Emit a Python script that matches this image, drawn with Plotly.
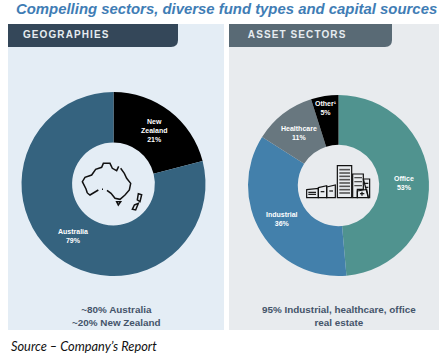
import plotly.graph_objects as go

W, H = 448, 356

geo_labels = ["New Zealand", "Australia"]
geo_values = [21, 79]
geo_colors = ["#000000", "#35637F"]

sector_labels = ["Office", "Industrial", "Healthcare", "Other"]
sector_values = [48.6, 35.4, 11.1, 4.9]
sector_colors = ["#50938F", "#4380AB", "#68777F", "#000000"]


def X(p):
    return p / W


def Y(p):
    return 1 - p / H


def dom(cx, cy, r):
    return dict(x=[X(cx - r), X(cx + r)], y=[Y(cy + r), Y(cy - r)])


def pts(points, ox=0, oy=0, s=1.0, close=False):
    d = "M" + " L".join(f"{X(ox + a * s):.4f},{Y(oy + b * s):.4f}" for a, b in points)
    return d + (" Z" if close else "")


def path(d, line="#111111", width=1.4, fill=None):
    return dict(type="path", xref="paper", yref="paper", path=d,
                line=dict(color=line, width=width),
                fillcolor=fill or "rgba(0,0,0,0)", layer="above")


def rect(x0, y0, x1, y1, fill, line=None, width=0, layer="below"):
    return dict(type="rect", xref="paper", yref="paper", x0=X(x0), x1=X(x1),
                y0=Y(y1), y1=Y(y0), fillcolor=fill,
                line=dict(color=line or fill, width=width), layer=layer)


def header(x0, x1, y0, y1, fill):
    r = 7
    d = (f"M{X(x0)},{Y(y0)} L{X(x1)},{Y(y0)} L{X(x1)},{Y(y1 - r)} "
         f"Q{X(x1)},{Y(y1)} {X(x1 - r)},{Y(y1)} L{X(x0)},{Y(y1)} Z")
    return dict(type="path", xref="paper", yref="paper", path=d, fillcolor=fill,
                line=dict(width=0), layer="above")


shapes = [
    rect(8, 24, 224, 330, "#E4EDF5"),
    rect(229, 24, 439, 330, "#E8EBEE"),
    header(8, 178, 24, 47, "#344759"),
    header(229, 392, 24, 47, "#596A75"),
]

# Australia / New Zealand icon (outline in zoomed-crop units)
aus = [(37, 129), (33, 117), (22, 95), (30, 82), (50, 75), (62, 58), (80, 52), (85, 40), (105, 40),
       (112, 55), (125, 62), (131, 49)]
aus2 = [(137, 55), (148, 70), (155, 85), (167, 100), (163, 120), (150, 135), (135, 148), (120, 145),
        (108, 130), (96, 121)]
aus3 = [(70, 120), (45, 135), (37, 129)]
tas = [(125, 155), (137, 155), (130, 165)]
nz1 = [(190, 131), (200, 134), (195, 155), (187, 150)]
nz2 = [(178, 165), (190, 160), (182, 180), (172, 178)]
for seg, close in [(aus, False), (aus2, False), (aus3, False), (tas, True), (nz1, True), (nz2, True)]:
    shapes.append(path(pts(seg, 75, 150, 1 / 3, close), width=1.5))
shapes.append(path(pts([(81, 118), (84, 118)], 75, 150, 1 / 3), width=1.5))

# Buildings icon (outline in zoomed-crop units)
bld = [
    [(20, 104), (55, 100), (55, 128), (20, 128)],
    [(55, 98), (80, 92), (80, 128), (55, 128)],
    [(80, 96), (106, 90), (106, 128), (80, 128)],
    [(112, 32), (155, 32), (155, 128), (112, 128)],
    [(158, 57), (190, 57), (190, 103), (172, 103), (172, 128), (158, 128)],
    [(190, 72), (209, 72), (209, 128), (205, 128)],
    [(172, 108), (200, 103), (205, 128), (172, 128)],
]
for b in bld:
    shapes.append(path(pts(b, 300, 155, 1 / 3, True), width=1.2))
for yy in (44, 54, 64, 74, 84, 94, 104, 114):
    shapes.append(path(pts([(118, yy), (150, yy)], 300, 155, 1 / 3), line="#555555", width=1.6))
for yy in (68, 80, 92):
    shapes.append(path(pts([(163, yy), (186, yy)], 300, 155, 1 / 3), line="#444444", width=1.2))
for seg in ([(62, 110), (73, 110)], [(88, 108), (99, 108)], [(25, 112), (48, 112)],
            [(25, 118), (48, 118)], [(186, 110), (186, 122)], [(180, 116), (193, 116)],
            [(195, 85), (205, 85)], [(195, 97), (205, 97)]):
    shapes.append(path(pts(seg, 300, 155, 1 / 3), width=1.2))


def note(x, y, text, size=7.5, color="#FFFFFF", bold=True, italic=False, family="Liberation Sans", anchor="center"):
    t = text
    if bold:
        t = f"<b>{t}</b>"
    if italic:
        t = f"<i>{t}</i>"
    return dict(x=X(x), y=Y(y), xref="paper", yref="paper", text=t, showarrow=False,
                xanchor=anchor, yanchor="middle", align="center",
                font=dict(size=size, color=color, family=family))


annotations = [
    note(226, 9, "Compelling sectors, diverse fund types and capital sources", size=14.9,
         color="#3F7DB5", italic=True),
    note(66, 35, "GEOGRAPHIES", size=10, color="#E6ECF0"),
    note(297, 35, "ASSET SECTORS", size=10, color="#E6ECF0"),
    note(153.5, 131, "New<br>Zealand<br>21%", size=7),
    note(72.5, 236, "Australia<br>79%", size=7),
    note(404, 183, "Office<br>53%", size=7),
    note(282, 219, "Industrial<br>36%", size=7),
    note(298.5, 133, "Healthcare<br>11%", size=7),
    note(325.5, 108, "Other¹<br>5%", size=7),
    note(116, 316, "~80% Australia<br>~20% New Zealand", size=9.9, color="#44546A"),
    note(339, 316, "95% Industrial, healthcare, office<br>real estate", size=9.9, color="#44546A"),
    note(84, 346, "Source – Company’s Report", size=12.8, color="#111111", bold=False, italic=True,
         family="Lato"),
]

fig = go.Figure()
fig.add_trace(go.Pie(labels=geo_labels, values=geo_values, sort=False, direction="clockwise",
                     rotation=0, hole=0.45, textinfo="none", showlegend=False,
                     marker=dict(colors=geo_colors, line=dict(width=0)),
                     domain=dom(113.5, 184, 92)))
fig.add_trace(go.Pie(labels=sector_labels, values=sector_values, sort=False, direction="clockwise",
                     rotation=0, hole=0.45, textinfo="none", showlegend=False,
                     marker=dict(colors=sector_colors, line=dict(width=0)),
                     domain=dom(338.5, 185.5, 90.5)))
fig.update_layout(width=W, height=H, margin=dict(l=0, r=0, t=0, b=0), autosize=False,
                  paper_bgcolor="#FFFFFF", plot_bgcolor="#FFFFFF", showlegend=False,
                  shapes=shapes, annotations=annotations)

post = ("document.body.style.margin='0';document.documentElement.style.overflow='hidden';"
        "var s=document.createElement('style');"
        "s.textContent='.annotation-text[data-unformatted*=\"GEOGRAPHIES\"],"
        ".annotation-text[data-unformatted*=\"ASSET\"]{letter-spacing:1.1px}';"
        "document.head.appendChild(s);")
fig.write_html("out.html", config=dict(displayModeBar=False), post_script=post)
